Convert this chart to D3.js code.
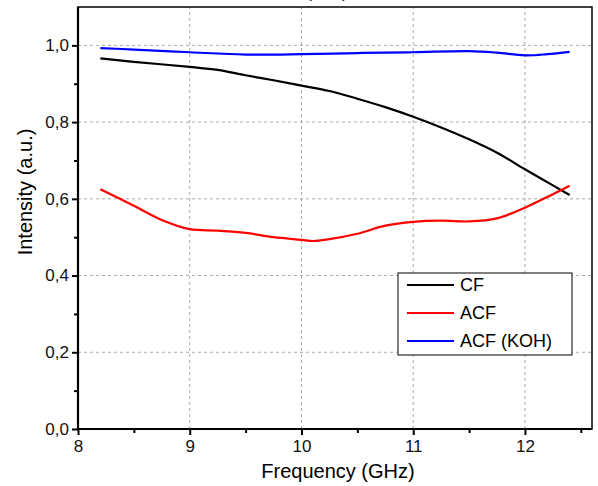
<!DOCTYPE html>
<html>
<head>
<meta charset="utf-8">
<script src="https://cdn.jsdelivr.net/npm/d3@7.9.0/dist/d3.min.js"></script>
<style>
  body { margin: 0; background: #fff; }
  svg { display: block; font-family: "Liberation Sans", Arial, sans-serif; }
</style>
</head>
<body>
<div id="chart"></div>
<script>
// frequency (GHz) sample points
const freqCF = [8.2, 8.5, 9, 9.25, 9.5, 9.75, 10, 10.25, 10.5, 10.75, 11, 11.25, 11.5, 11.75, 12, 12.25, 12.4];
const valCF  = [0.966, 0.957, 0.944, 0.936, 0.922, 0.909, 0.895, 0.881, 0.861, 0.839, 0.814, 0.786, 0.755, 0.720, 0.677, 0.635, 0.610];

const freqACF = [8.2, 8.5, 8.75, 9, 9.25, 9.5, 9.75, 10, 10.1, 10.25, 10.5, 10.75, 11, 11.25, 11.5, 11.75, 12, 12.25, 12.4];
const valACF  = [0.625, 0.582, 0.545, 0.521, 0.517, 0.511, 0.500, 0.493, 0.490, 0.495, 0.509, 0.530, 0.540, 0.543, 0.541, 0.549, 0.577, 0.612, 0.634];

const freqKOH = [8.2, 8.5, 9, 9.5, 10, 10.5, 11, 11.5, 11.75, 12, 12.2, 12.4];
const valKOH  = [0.993, 0.989, 0.982, 0.976, 0.977, 0.980, 0.982, 0.985, 0.981, 0.974, 0.977, 0.983];

const seriesNames = ['CF', 'ACF', 'ACF (KOH)'];
const seriesColors = ['#000000', '#ff0000', '#0000ff'];
const xTicks = [8, 9, 10, 11, 12];
const yTicks = [0, 0.2, 0.4, 0.6, 0.8, 1.0];

const series = [
  { name: seriesNames[0], color: seriesColors[0], pts: d3.zip(freqCF, valCF) },
  { name: seriesNames[1], color: seriesColors[1], pts: d3.zip(freqACF, valACF) },
  { name: seriesNames[2], color: seriesColors[2], pts: d3.zip(freqKOH, valKOH) },
];

const width = 598, height = 486;
const margin = { top: 7, right: 6, bottom: 57, left: 78 };

const svg = d3.select('#chart').append('svg')
  .attr('width', width)
  .attr('height', height);

const x = d3.scaleLinear().domain([8, 12.6]).range([margin.left, width - margin.right]);
const y = d3.scaleLinear().domain([0, 1.1]).range([height - margin.bottom, margin.top]);

const comma = (d) => d3.format('.1f')(d).replace('.', ',');

// title, cut off at the top edge as in the original
svg.append('text')
  .attr('x', 327).attr('y', -3)
  .attr('text-anchor', 'middle')
  .attr('font-size', 18)
  .attr('fill', '#222')
  .text('(a.u.)');

// gridlines
const grid = svg.append('g').attr('stroke', '#aaa').attr('stroke-width', 1).attr('stroke-dasharray', '3,3');
grid.selectAll('.vx').data(xTicks.slice(1)).join('line')
  .attr('x1', (d) => x(d)).attr('x2', (d) => x(d))
  .attr('y1', y(0)).attr('y2', y(1.1));
grid.selectAll('.hy').data(yTicks.slice(1)).join('line')
  .attr('x1', x(8)).attr('x2', x(12.6))
  .attr('y1', (d) => y(d)).attr('y2', (d) => y(d));

// curves
const line = d3.line().x((d) => x(d[0])).y((d) => y(d[1])).curve(d3.curveCatmullRom);
svg.append('g').selectAll('path').data(series).join('path')
  .attr('d', (d) => line(d.pts))
  .attr('fill', 'none')
  .attr('stroke', (d) => d.color)
  .attr('stroke-width', 2.2);

// frame
svg.append('rect')
  .attr('x', x(8)).attr('y', y(1.1))
  .attr('width', x(12.6) - x(8)).attr('height', y(0) - y(1.1))
  .attr('fill', 'none').attr('stroke', '#000').attr('stroke-width', 1.5);

// axes
const xAxis = svg.append('g')
  .attr('transform', `translate(0,${y(0)})`)
  .call(d3.axisBottom(x).tickValues(xTicks).tickFormat(d3.format('d')).tickSize(6).tickPadding(5));
svg.append('g')
  .attr('transform', `translate(0,${y(0)})`)
  .call(d3.axisBottom(x).tickValues([8.5, 9.5, 10.5, 11.5, 12.5]).tickFormat('').tickSize(4))
  .select('.domain').remove();

const yAxis = svg.append('g')
  .attr('transform', `translate(${x(8)},0)`)
  .call(d3.axisLeft(y).tickValues(yTicks).tickFormat(comma).tickSize(6).tickPadding(3));
svg.append('g')
  .attr('transform', `translate(${x(8)},0)`)
  .call(d3.axisLeft(y).tickValues([0.1, 0.3, 0.5, 0.7, 0.9]).tickFormat('').tickSize(4))
  .select('.domain').remove();

xAxis.select('.domain').attr('stroke-width', 2.2).attr('d', `M${x(8)},0H${x(12.6)}`);
yAxis.select('.domain').attr('stroke-width', 2.2).attr('d', `M0,${y(0)}V${y(1.1)}`);
svg.selectAll('.tick line').attr('stroke-width', 2);
svg.selectAll('.tick text').attr('font-size', 17).attr('fill', '#111')
  .attr('font-family', '"Liberation Sans", Arial, sans-serif');

// axis labels
svg.append('text')
  .attr('x', 338).attr('y', 478)
  .attr('text-anchor', 'middle')
  .attr('font-size', 20)
  .text('Frequency (GHz)');
svg.append('text')
  .attr('transform', 'translate(32,192) rotate(-90)')
  .attr('text-anchor', 'middle')
  .attr('font-size', 20)
  .text('Intensity (a.u.)');

// legend
const legend = svg.append('g').attr('transform', 'translate(398,273)');
legend.append('rect')
  .attr('width', 174).attr('height', 82)
  .attr('fill', '#fff').attr('stroke', '#000').attr('stroke-width', 1);
const items = legend.selectAll('g').data(series).join('g')
  .attr('transform', (d, i) => `translate(0,${12 + i * 28})`);
items.append('line')
  .attr('x1', 9).attr('x2', 56)
  .attr('stroke', (d) => d.color).attr('stroke-width', 2);
items.append('text')
  .attr('x', 62).attr('dy', '0.35em')
  .attr('font-size', 18)
  .text((d) => d.name);
</script>
</body>
</html>
